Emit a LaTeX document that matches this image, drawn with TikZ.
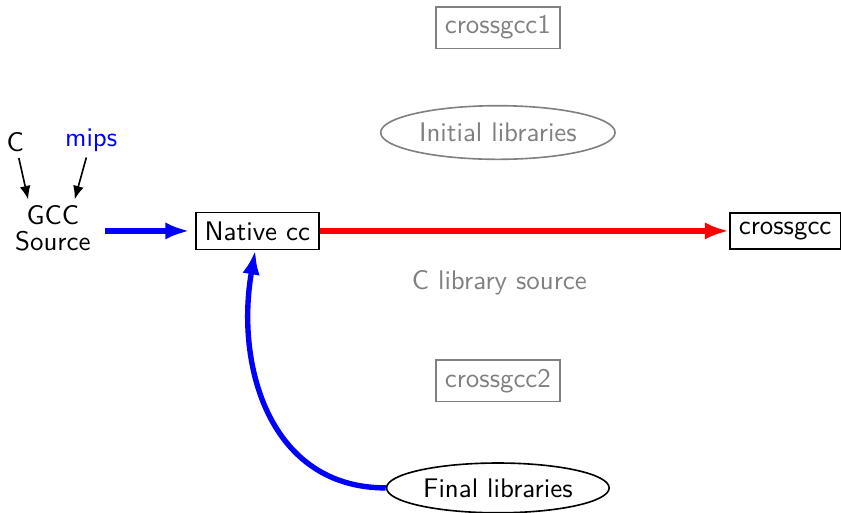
\documentclass[tikz,border=0pt]{standalone}
\usepackage{tikz}
\usetikzlibrary{arrows.meta,positioning,shapes.geometric}

\begin{document}
\begin{tikzpicture}[font=\sffamily]
    \useasboundingbox (0,0) rectangle (10.98,6.69);

    % Greyed-out later stages
    \node[draw=gray, semithick, text=gray] (cgcc1) at (6.50,6.33) {crossgcc1};
    \node[draw=gray, semithick, text=gray, ellipse, inner sep=1.5pt, minimum height=0.7cm] (initlib) at (6.50,4.96) {Initial libraries};
    \node[text=gray] (clib) at (6.52,3.00) {C library source};
    \node[draw=gray, semithick, text=gray] (cgcc2) at (6.50,1.72) {crossgcc2};

    % Inputs to the GCC source
    \node[inner sep=2pt] (lang) at (0.20,4.83) {C};
    \node[blue, inner sep=2pt] (arch) at (1.19,4.86) {mips};
    \node[align=center] (src) at (0.69,3.71) {GCC\\[-2pt]Source};
    \draw[-{Latex[length=5pt,width=4pt]}, semithick, shorten >=-1.5pt] (lang) -- (src.128);
    \draw[-{Latex[length=5pt,width=4pt]}, semithick, shorten >=-1.5pt] (arch) -- (src.55);

    % First stage compilers
    \node[draw, semithick] (native) at (3.36,3.675) {Native cc};
    \node[draw, semithick] (cross) at (10.25,3.675) {crossgcc};
    \draw[-{Latex[length=9pt,width=6.5pt]}, blue, line width=2pt, shorten <=2pt, shorten >=2pt] (src.east |- native) -- (native);
    \draw[-{Latex[length=9pt,width=6.5pt]}, red, line width=2pt] (native) -- (cross);

    % Libraries fed back
    \node[draw, semithick, ellipse, inner sep=1.5pt, minimum height=0.65cm] (finallib) at (6.50,0.32) {Final libraries};
    \draw[-{Latex[length=9pt,width=6.5pt]}, blue, line width=2pt] (finallib.west) to[out=180, in=-100, looseness=1.1] (native.-96);
\end{tikzpicture}
\end{document}
